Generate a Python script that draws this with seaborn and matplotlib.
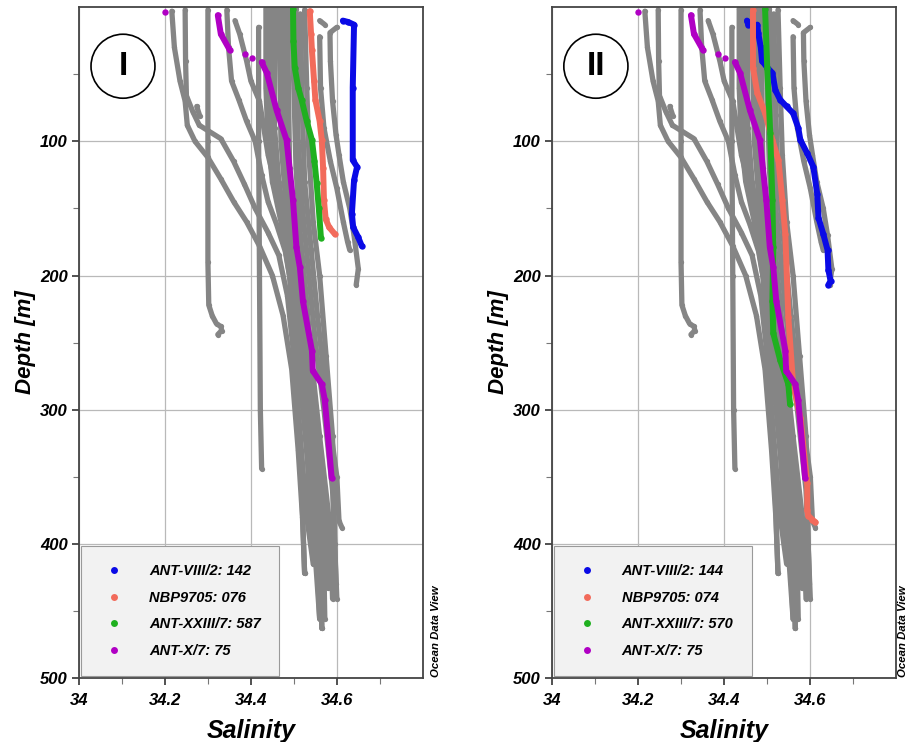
import pandas as pd
import matplotlib
matplotlib.use("Agg")
import matplotlib.pyplot as plt
import seaborn as sns
from matplotlib.lines import Line2D
from matplotlib.patches import Ellipse

# background CTD profiles (salinity, depth in m) - same in both panels
g01 = [(34.216, 3), (34.222, 30), (34.235, 55), (34.247, 70), (34.252, 88), (34.27, 100), (34.30, 112),
       (34.33, 128), (34.36, 145), (34.39, 160), (34.42, 178), (34.45, 200), (34.475, 230), (34.495, 270),
       (34.51, 330), (34.52, 380), (34.525, 422)]
g02 = [(34.247, 2), (34.248, 40), (34.25, 66), (34.265, 78), (34.28, 88), (34.30, 92), (34.33, 98),
       (34.36, 115), (34.385, 132), (34.41, 150), (34.44, 168), (34.465, 185), (34.485, 215), (34.50, 260),
       (34.515, 320), (34.53, 380), (34.545, 415)]
g03 = [(34.30, 2), (34.30, 100), (34.30, 190), (34.302, 222), (34.31, 230), (34.32, 236), (34.33, 238),
       (34.332, 241), (34.323, 244)]
g04 = [(34.344, 2), (34.348, 30), (34.355, 55), (34.372, 69), (34.39, 85), (34.41, 100), (34.425, 125),
       (34.44, 145), (34.46, 162), (34.48, 182), (34.495, 210), (34.505, 245), (34.518, 290), (34.535, 350),
       (34.55, 410), (34.56, 456)]
g05 = [(34.363, 10), (34.374, 20), (34.39, 40), (34.40, 55), (34.42, 70), (34.43, 90), (34.44, 110),
       (34.455, 130), (34.47, 150), (34.49, 170), (34.505, 195), (34.52, 230), (34.535, 280), (34.55, 350),
       (34.56, 410), (34.565, 463)]
g06 = [(34.418, 15), (34.418, 100), (34.42, 200), (34.422, 300), (34.425, 344)]
g07 = [(34.274, 74), (34.281, 81)]
g10 = [(34.435, 1), (34.435, 60), (34.44, 100), (34.45, 130), (34.47, 160), (34.49, 200), (34.50, 250),
       (34.515, 330), (34.525, 422)]
g11 = [(34.445, 1), (34.445, 80), (34.455, 120), (34.47, 150), (34.49, 185), (34.51, 240), (34.53, 320),
       (34.54, 400), (34.548, 415)]
g12 = [(34.455, 1), (34.455, 90), (34.465, 130), (34.48, 160), (34.50, 200), (34.52, 260), (34.54, 330),
       (34.555, 420), (34.56, 456)]
g13 = [(34.465, 1), (34.47, 100), (34.48, 140), (34.50, 180), (34.52, 230), (34.545, 300), (34.565, 380),
       (34.565, 463)]
g14 = [(34.475, 1), (34.48, 110), (34.49, 150), (34.51, 190), (34.53, 250), (34.55, 310), (34.575, 380),
       (34.58, 433)]
g15 = [(34.485, 1), (34.49, 120), (34.50, 170), (34.52, 210), (34.54, 260), (34.56, 320), (34.585, 390),
       (34.59, 441)]
g16 = [(34.505, 1), (34.51, 100), (34.52, 150), (34.535, 200), (34.55, 250), (34.57, 300), (34.59, 360),
       (34.60, 441)]
g17 = [(34.515, 5), (34.52, 80), (34.525, 130), (34.54, 180), (34.555, 230), (34.575, 290), (34.60, 350),
       (34.605, 383), (34.612, 388)]
g18 = [(34.525, 2), (34.53, 60), (34.535, 110), (34.545, 160), (34.56, 200), (34.575, 260), (34.59, 320),
       (34.595, 400), (34.598, 430)]
g19 = [(34.495, 1), (34.50, 60), (34.505, 120), (34.515, 170), (34.53, 220), (34.545, 280), (34.56, 340),
       (34.57, 420), (34.572, 456)]
g20 = [(34.60, 15), (34.584, 19), (34.585, 40), (34.59, 70), (34.598, 95), (34.605, 110), (34.615, 130),
       (34.63, 150), (34.64, 170), (34.65, 195), (34.645, 207)]
g21 = [(34.560, 10), (34.572, 13)]
g22 = [(34.56, 22), (34.562, 60), (34.57, 90), (34.585, 115), (34.60, 135), (34.615, 160), (34.625, 175),
       (34.63, 181)]
gray_profiles = [g01, g02, g03, g04, g05, g06, g07, g10, g11, g12, g13, g14, g15, g16, g17, g18, g19,
                 g20, g21, g22]

# highlighted stations, panel I
blue_1 = [(34.614, 10), (34.626, 11), (34.640, 13), (34.637, 60), (34.637, 114), (34.647, 119),
          (34.640, 129), (34.635, 154), (34.638, 164), (34.649, 171), (34.658, 178)]
red_1 = [(34.537, 3), (34.54, 20), (34.542, 32), (34.547, 55), (34.55, 69), (34.56, 85), (34.565, 99),
         (34.568, 120), (34.57, 144), (34.574, 158), (34.582, 164), (34.595, 169)]
green_1 = [(34.498, 1), (34.499, 25), (34.502, 45), (34.51, 60), (34.518, 69), (34.53, 85), (34.542, 99),
           (34.548, 115), (34.553, 131), (34.558, 150), (34.563, 172)]

# highlighted stations, panel II
blue_2 = [(34.453, 10), (34.456, 13), (34.47, 14), (34.477, 13), (34.479, 19), (34.485, 30), (34.488, 40),
          (34.5, 45), (34.512, 49), (34.519, 62), (34.53, 69), (34.545, 74), (34.56, 79), (34.572, 90),
          (34.577, 99), (34.593, 109), (34.607, 119), (34.616, 139), (34.619, 157), (34.63, 169),
          (34.64, 181), (34.642, 196), (34.647, 204), (34.642, 207)]
red_2 = [(34.467, 2), (34.467, 45), (34.477, 64), (34.495, 79), (34.512, 99), (34.526, 114), (34.535, 144),
         (34.542, 169), (34.549, 231), (34.56, 281), (34.577, 306), (34.593, 355), (34.593, 375),
         (34.595, 379), (34.605, 382), (34.612, 384)]
green_2 = [(34.495, 1), (34.5, 45), (34.507, 94), (34.512, 144), (34.514, 179), (34.512, 219),
           (34.514, 243), (34.53, 263), (34.549, 281), (34.553, 296)]

# ANT-X/7: 75 is the same station in both panels (broken into pieces at the top)
purple_a = [(34.20, 3.7)]
purple_b = [(34.323, 6), (34.33, 20), (34.351, 32)]
purple_c = [(34.386, 35)]
purple_d = [(34.403, 38)]
purple_e = [(34.425, 41), (34.437, 49), (34.46, 77), (34.483, 99), (34.498, 144), (34.506, 179),
            (34.514, 194), (34.521, 219), (34.542, 256), (34.544, 271), (34.565, 281), (34.572, 293),
            (34.588, 351)]
purple = [purple_a, purple_b, purple_c, purple_d, purple_e]

labels_1 = ["ANT-VIII/2: 142", "NBP9705: 076", "ANT-XXIII/7: 587", "ANT-X/7: 75"]
labels_2 = ["ANT-VIII/2: 144", "NBP9705: 074", "ANT-XXIII/7: 570", "ANT-X/7: 75"]
panel_tags = ["I", "II"]

x_ticks = [34, 34.2, 34.4, 34.6]
x_ticklabels = ["34", "34.2", "34.4", "34.6"]
x_minor = [34.1, 34.3, 34.5, 34.7]
y_ticks = [100, 200, 300, 400, 500]
y_minor = [50, 150, 250, 350, 450]

GRAY = "#858585"
BLUE = "#0a0ae6"
RED = "#f26b5b"
GREEN = "#1fb01f"
PURPLE = "#b000c4"


def to_frame(profiles):
    rows = []
    for pid, prof in enumerate(profiles):
        for s, d in prof:
            rows.append((pid, s, d))
    return pd.DataFrame(rows, columns=["pid", "sal", "depth"])


sns.set_style("white")
plt.rcParams["font.family"] = ["Liberation Sans", "DejaVu Sans"]
plt.rcParams["text.color"] = "black"
plt.rcParams["axes.labelcolor"] = "black"
plt.rcParams["xtick.labelcolor"] = "black"
plt.rcParams["ytick.labelcolor"] = "black"

fig = plt.figure(figsize=(9.12, 7.42), dpi=100)
ax1 = fig.add_axes([0.0866, 0.0863, 0.377, 0.904])
ax2 = fig.add_axes([0.605, 0.0863, 0.378, 0.904])

panels = [
    (ax1, [blue_1], [red_1], [green_1], labels_1, panel_tags[0], 1.038),
    (ax2, [blue_2], [red_2], [green_2], labels_2, panel_tags[1], 1.02),
]

tick_font = dict(fontsize=12, fontweight="bold", style="italic")

for ax, blue, red, green, labels, tag, odv_x in panels:
    line_kw = dict(x="sal", y="depth", units="pid", estimator=None, sort=False, ax=ax,
                   legend=False, marker="o", mew=0, solid_capstyle="round")
    sns.lineplot(data=to_frame(gray_profiles), color=GRAY, lw=3.8, ms=3.8, **line_kw)
    sns.lineplot(data=to_frame(blue), color=BLUE, lw=4.3, ms=4.6, **line_kw)
    sns.lineplot(data=to_frame(red), color=RED, lw=4.3, ms=4.6, **line_kw)
    sns.lineplot(data=to_frame(green), color=GREEN, lw=4.3, ms=4.6, **line_kw)
    sns.lineplot(data=to_frame(purple), color=PURPLE, lw=4.3, ms=4.6, **line_kw)

    ax.set_xlim(34, 34.8)
    ax.set_ylim(500, 0)
    ax.set_xticks(x_ticks)
    ax.set_xticks(x_minor, minor=True)
    ax.set_xticklabels(x_ticklabels, **tick_font)
    ax.set_yticks(y_ticks)
    ax.set_yticks(y_minor, minor=True)
    ax.set_yticklabels([str(v) for v in y_ticks], **tick_font)
    ax.tick_params(which="major", direction="out", length=5, width=1.2, color="#333333",
                   left=True, bottom=True, pad=3)
    ax.tick_params(axis="x", which="major", pad=6)
    ax.tick_params(which="minor", direction="out", length=4, width=0.8, color="#777777",
                   left=True, bottom=True)
    ax.grid(True, which="major", color="#b9b9b9", lw=0.9)
    ax.set_axisbelow(True)
    for sp in ax.spines.values():
        sp.set_color("#444444")
        sp.set_linewidth(1.3)

    ax.set_xlabel("Salinity", fontsize=18, fontweight="bold", style="italic", labelpad=8)
    ax.set_ylabel("Depth [m]", fontsize=16, fontweight="bold", style="italic", labelpad=3)

    handles = [Line2D([], [], ls="none", marker="o", ms=5, mew=0, color=c)
               for c in [BLUE, RED, GREEN, PURPLE]]
    leg = ax.legend(handles, labels, loc="lower left", bbox_to_anchor=(0.006, 0.003),
                    borderaxespad=0, frameon=True, fancybox=False, framealpha=1,
                    facecolor="#f2f2f2", edgecolor="#9a9a9a", borderpad=1.25,
                    handlelength=2.0, handletextpad=1.4, labelspacing=0.86,
                    prop=dict(family="Liberation Sans", size=10.5, weight="bold", style="italic"))
    leg.get_frame().set_linewidth(0.8)

    ax.add_patch(Ellipse((0.128, 0.912), 0.186, 0.0954, transform=ax.transAxes,
                         fill=False, ec="black", lw=1.2, zorder=5))
    ax.text(0.128, 0.912, tag, transform=ax.transAxes, ha="center", va="center",
            fontsize=24, fontweight="bold", zorder=6)

    ax.text(odv_x, 0.07, "Ocean Data View", transform=ax.transAxes, rotation=90,
            ha="center", va="center", fontsize=8.2, fontweight="bold", style="italic")

plt.savefig("out.png", dpi=100)
